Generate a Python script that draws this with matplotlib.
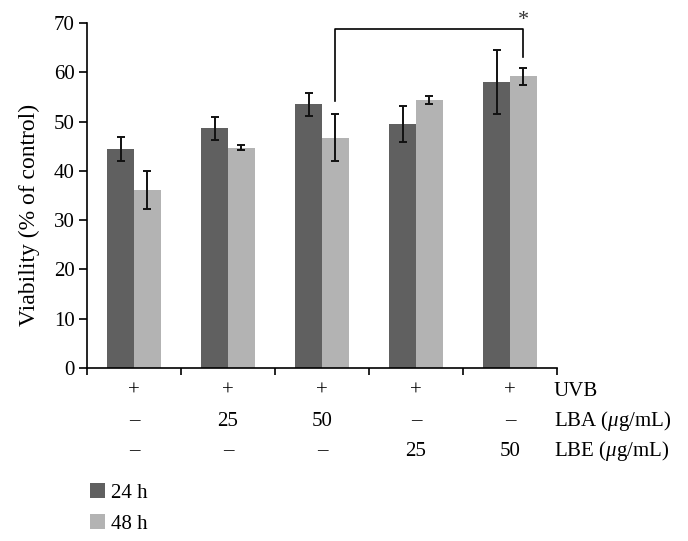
import matplotlib
matplotlib.use("Agg")
import matplotlib.pyplot as plt
import numpy as np
from matplotlib.transforms import blended_transform_factory
from matplotlib.patches import Patch

plt.rcParams['font.family'] = ['Liberation Serif', 'DejaVu Serif']
plt.rcParams['mathtext.fontset'] = 'custom'
plt.rcParams['mathtext.rm'] = 'Liberation Serif'
plt.rcParams['mathtext.it'] = 'Liberation Serif:italic'

# ---- data ----
groups = ['G1', 'G2', 'G3', 'G4', 'G5']
viab_24h = [44.5, 48.6, 53.5, 49.5, 58.0]
err_24h = [2.4, 2.4, 2.35, 3.65, 6.5]
viab_48h = [36.1, 44.7, 46.7, 54.4, 59.2]
err_48h = [3.9, 0.5, 4.8, 0.8, 1.7]
series_labels = ['24 h', '48 h']
row_uvb = ['+', '+', '+', '+', '+']
row_lba = ['–', '25', '50', '–', '–']
row_lbe = ['–', '–', '–', '25', '50']
row_names = ['UVB', 'LBA ($\\mu$g/mL)', 'LBE ($\\mu$g/mL)']
yticks = [0, 10, 20, 30, 40, 50, 60, 70]
# significance bracket: from group 3 (48 h) to group 5 (48 h)
sig_from, sig_to = 2, 4
sig_left_y, sig_top_y, sig_right_y = 54.2, 68.7, 63.1
sig_label = '*'

col_dark = '#606060'
col_light = '#b3b3b3'
FS = 15

fig = plt.figure(figsize=(6.88, 5.41), dpi=100)
ax = fig.add_axes([87/688, 1-368/541, (557-87)/688, (368-23)/541])

x = np.arange(len(groups))
w = 0.287
ax.bar(x - w/2, viab_24h, w, color=col_dark, zorder=2)
ax.bar(x + w/2, viab_48h, w, color=col_light, zorder=2)
ekw = dict(fmt='none', ecolor='#111111', elinewidth=1.4, capsize=2.6, capthick=1.4, zorder=3)
ax.errorbar(x - w/2, viab_24h, yerr=err_24h, **ekw)
ax.errorbar(x + w/2, viab_48h, yerr=err_48h, **ekw)

# bracket
bx0 = x[sig_from] + w/2
bx1 = x[sig_to] + w/2
ax.plot([bx0, bx0, bx1, bx1], [sig_left_y, sig_top_y, sig_top_y, sig_right_y],
        color='black', lw=1.2, clip_on=False, zorder=4)
ax.text(bx1, sig_top_y - 0.2, sig_label, ha='center', va='bottom', fontsize=16,
        color='#333333', clip_on=False)

ax.set_xlim(-0.5, len(groups) - 0.5)
ax.set_ylim(0, 70)
ax.set_yticks(yticks)
ax.set_yticklabels([str(t) for t in yticks], fontsize=FS)
ax.set_xticks(np.arange(-0.5, len(groups) + 0.5, 1.0))
ax.set_xticklabels([])
ax.tick_params(axis='y', direction='out', length=6, width=1.2, pad=3)
ax.tick_params(axis='x', direction='out', length=5, width=1.2)
for s in ['top', 'right']:
    ax.spines[s].set_visible(False)
for s in ['left', 'bottom']:
    ax.spines[s].set_linewidth(1.2)
ax.set_ylabel('Viability (% of control)', fontsize=17)
ax.yaxis.set_label_coords(-(87-40)/470, 1-(215-23)/345)

# table under axis
tr = blended_transform_factory(ax.transData, fig.transFigure)
row_y = [1-391/541, 1-421/541, 1-451/541]
for ry, row in zip(row_y, [row_uvb, row_lba, row_lbe]):
    for xi, s in zip(x, row):
        ax.text(xi, ry, s, transform=tr, ha='center', va='center', fontsize=FS)
for ry, name in zip(row_y, row_names):
    fig.text(554/688, ry, name, ha='left', va='center', fontsize=FS)

handles = [Patch(facecolor=col_dark, edgecolor='none'), Patch(facecolor=col_light, edgecolor='none')]
fig.legend(handles, series_labels, loc='upper left', bbox_to_anchor=(90/688, 1-483/541),
           frameon=False, fontsize=FS, handlelength=0.7, handleheight=0.7,
           handletextpad=0.3, labelspacing=0.55, borderpad=0, borderaxespad=0)

fig.savefig('out.png', dpi=100)
